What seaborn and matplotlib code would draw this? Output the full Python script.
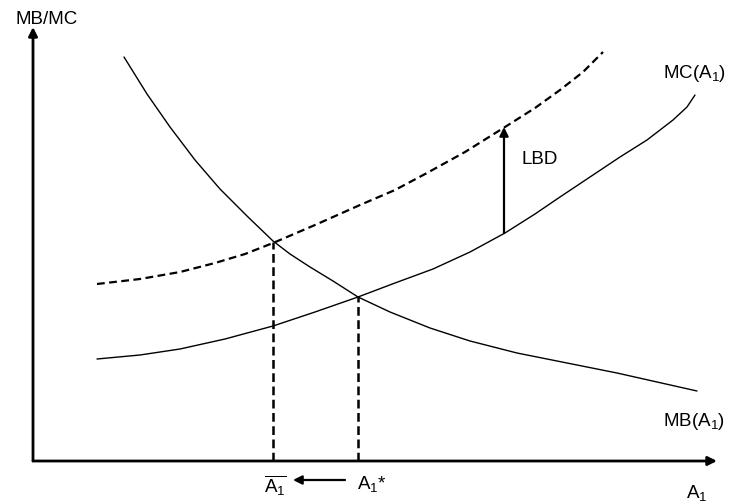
import matplotlib
matplotlib.use('Agg')
import matplotlib.pyplot as plt
import seaborn as sns

mb_x = [91, 114, 137, 162, 187, 214, 240, 257, 277, 300, 325, 357, 397, 437, 484, 534, 584, 624, 664]
mb_y = [404, 367, 334, 301, 272, 245, 220, 207, 194, 180, 164, 149, 133, 120, 108, 98, 88, 79, 70]

mc_x = [64, 107, 147, 192, 240, 282, 325, 362, 400, 437, 472, 502, 527, 557, 587, 614, 640, 654, 662]
mc_y = [102, 106, 112, 122, 135, 149, 164, 178, 192, 209, 228, 247, 264, 284, 304, 321, 341, 354, 366]

mc_lbd_x = [64, 107, 147, 182, 212, 240, 282, 327, 362, 394, 432, 472, 502, 527, 550, 570]
mc_lbd_y = [177, 182, 189, 198, 207, 218, 236, 256, 271, 288, 309, 334, 353, 371, 389, 409]

# Points d'équilibre : A1 barre et A1*
eq_x = [240, 325]
eq_y = [219, 164]

# Flèche LBD
lbd_x = 471
lbd_y = [228, 334]

sns.set_style('white')
plt.rcParams['font.family'] = ['Liberation Sans', 'DejaVu Sans']
plt.rcParams['mathtext.fontset'] = 'custom'
plt.rcParams['mathtext.rm'] = 'Liberation Sans'
plt.rcParams['mathtext.it'] = 'Liberation Sans'
plt.rcParams['mathtext.default'] = 'regular'

fig = plt.figure(figsize=(7.36, 5.04), dpi=100)
ax = fig.add_axes([0, 0, 1, 1])

sns.lineplot(x=mb_x, y=mb_y, ax=ax, color='black', lw=1.0, sort=False, estimator=None)
sns.lineplot(x=mc_x, y=mc_y, ax=ax, color='black', lw=1.0, sort=False, estimator=None)
sns.lineplot(x=mc_lbd_x, y=mc_lbd_y, ax=ax, color='black', lw=1.6, sort=False,
             estimator=None, linestyle=(0, (3.5, 2)))

for x, y in zip(eq_x, eq_y):
    ax.plot([x, x], [0, y], color='black', lw=1.8, linestyle=(0, (3.5, 1.8)))

arrow = dict(arrowstyle='-|>', color='black', lw=2, mutation_scale=13, shrinkA=0, shrinkB=0)
# axes
ax.annotate('', xy=(0, 434), xytext=(0, 0), arrowprops=arrow)
ax.annotate('', xy=(684, 0), xytext=(0, 0), arrowprops=arrow)
# LBD
ax.annotate('', xy=(lbd_x, lbd_y[1]), xytext=(lbd_x, lbd_y[0]),
            arrowprops=dict(arrow, lw=1.6))
# A1* -> A1 barre
ax.annotate('', xy=(260, -19), xytext=(312, -19), arrowprops=dict(arrow, lw=1.6))

fs = 13.5
txt = dict(fontsize=fs, ha='center', va='center', color='black')
ax.text(14, 441, 'MB/MC', **txt)
ax.text(661, 388, 'MC(A$_1$)', **txt)
ax.text(661, 40, 'MB(A$_1$)', **txt)
ax.text(664, -32, 'A$_1$', **txt)
ax.text(eq_x[0] + 2, -24, r'$\overline{A_1}$', **txt)
ax.text(eq_x[1] + 14, -23, 'A$_1$*', **txt)
ax.text(507, 301, 'LBD', **txt)

ax.set_xlim(-33, 703)
ax.set_ylim(-43, 461)
ax.set_xticks([])
ax.set_yticks([])
sns.despine(ax=ax, left=True, bottom=True)

fig.savefig('out.png', dpi=100)
